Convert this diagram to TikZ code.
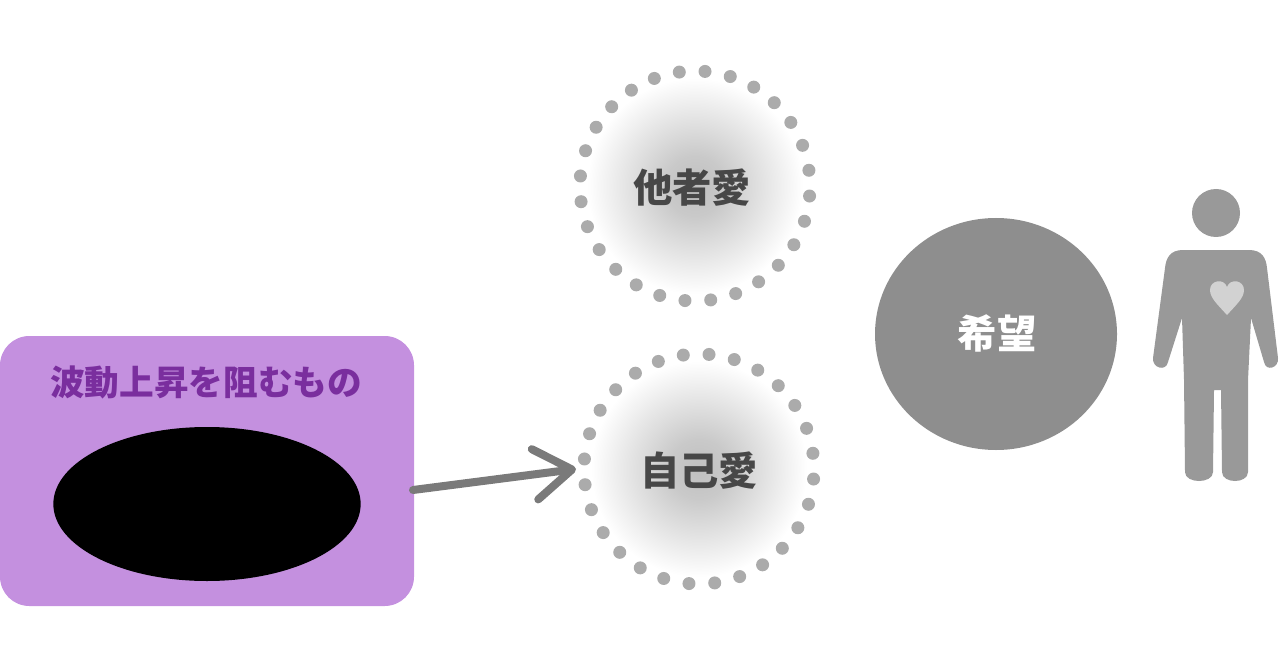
\documentclass[tikz,border=0pt]{standalone}
\usepackage{fontspec}
\newfontfamily\cjk{Noto Sans CJK JP}
\usetikzlibrary{arrows.meta,shapes.geometric}
\definecolor{boxpurple}{HTML}{C490DF}
\definecolor{titlepurple}{HTML}{7A2E9E}
\definecolor{labelgray}{HTML}{474747}
\definecolor{dotgray}{HTML}{ABABAB}
\definecolor{hopegray}{HTML}{8E8E8E}
\definecolor{arrowgray}{HTML}{7A7A7A}
\definecolor{persongray}{HTML}{999999}
\definecolor{heartgray}{HTML}{D2D2D2}
\pgfdeclareradialshading{glow}{\pgfpoint{0bp}{0bp}}{color(0bp)=(black!25); color(7bp)=(black!21); color(25bp)=(white); color(50bp)=(white)}
\tikzset{
  purplebox/.style={draw=none, fill=boxpurple, rounded corners=22pt},
  titletext/.style={font=\cjk\bfseries\fontsize{26}{30}\selectfont, text=titlepurple, inner sep=0pt},
  lovetext/.style={font=\cjk\bfseries\fontsize{29.5}{34}\selectfont, text=labelgray, inner sep=0pt},
  hopetext/.style={font=\cjk\bfseries\fontsize{29.5}{34}\selectfont, text=white, inner sep=0pt},
  dotc/.style={fill=dotgray},
  arrowline/.style={draw=arrowgray, line width=6pt, line cap=round, -{Straight Barb[length=28pt,width=38pt,round]}},
}
\begin{document}
\begin{tikzpicture}[x=0.75pt,y=-0.75pt]
\useasboundingbox (0,0) rectangle (1280,670);
% left box
\fill[purplebox] (0,336) rectangle (414,606);
\coordinate (box) at (207,471);
\node[titletext] (title) at (206,382) {波動上昇を阻むもの};
\node[ellipse, fill=black, minimum width=230.5pt, minimum height=115.5pt, inner sep=0pt] (blob) at (207,504) {};
% glows
\shade[shading=glow] (695,186) circle [radius=108];
\shade[shading=glow] (699,469) circle [radius=108];
% dots
\foreach \i in {0,...,27}{
  \fill[dotc] ({695+115*cos(85+\i*12.857)},{186-115*sin(85+\i*12.857)}) circle [radius=6.5];
  \fill[dotc] ({699+115*cos(85+\i*12.857)},{469-115*sin(85+\i*12.857)}) circle [radius=6.5];
}
\node[lovetext] (other) at (692,188) {他者愛};
\node[lovetext] (self) at (699,471) {自己愛};
% hope
\fill[hopegray] (996,334) ellipse [x radius=121, y radius=116];
\node[hopetext] (hope) at (997,333) {希望};
% arrow
\coordinate (astart) at (413,490);
\coordinate (atip) at (576,469);
\draw[arrowline] (astart) -- (atip);
% person
\fill[persongray] (1216,213) circle [radius=24];
\fill[persongray] (1183,250) -- (1249,250) .. controls (1262,250) and (1266,258) .. (1267,268)
  -- (1278,358) .. controls (1279,368) and (1266,372) .. (1264,362)
  -- (1251,318) -- (1248,380) -- (1248,472) .. controls (1248,484) and (1222,484) .. (1222,472)
  -- (1221,390) -- (1214,390) -- (1213,472) .. controls (1213,484) and (1185,484) .. (1185,472)
  -- (1184,380) -- (1182,318) -- (1168,362) .. controls (1166,372) and (1152,368) .. (1153,358)
  -- (1165,268) .. controls (1166,258) and (1170,250) .. (1183,250) -- cycle;
\fill[heartgray] (1227,315) .. controls (1218,305) and (1210,298) .. (1210,290)
  .. controls (1210,280) and (1224,278) .. (1227,287)
  .. controls (1230,278) and (1244,280) .. (1244,290)
  .. controls (1244,298) and (1236,305) .. (1227,315) -- cycle;
\end{tikzpicture}
\end{document}
